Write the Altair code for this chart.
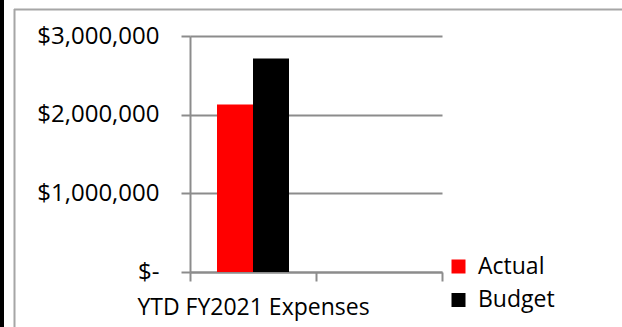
import altair as alt
import pandas as pd

# ---- data ----
categories = ["YTD FY2021 Expenses", "YTD FY2021 Expenses"]
series = ["Actual", "Budget"]
values = [2130000, 2715000]
axis_categories = ["YTD FY2021 Expenses", " "]
y_ticks = [0, 1000000, 2000000, 3000000]
colors = ["#ff0000", "#000000"]

FONT = "Open Sans"
GRID = "#8c8c8c"

df = pd.DataFrame({"category": categories, "series": series, "value": values})
one = pd.DataFrame({"k": [0]})

PAD_L, PAD_T, W, H = 190, 36, 252, 236
TOTAL_W, TOTAL_H = 622, 327

bars = alt.Chart(df).mark_bar(strokeWidth=0).encode(
    x=alt.X("category:N", scale=alt.Scale(domain=axis_categories, paddingInner=0, paddingOuter=0),
            sort=None,
            axis=alt.Axis(title=None, labelAngle=0, labelFontSize=23, labelFont=FONT, labelColor="#000000",
                          labelLimit=1000,
                          domainColor=GRID, domainWidth=2, tickColor=GRID, tickWidth=2, tickSize=9,
                          tickBand="extent", labelPadding=15, grid=False)),
    xOffset=alt.XOffset("series:N", scale=alt.Scale(paddingInner=0, paddingOuter=0.75), sort=series),
    y=alt.Y("value:Q", scale=alt.Scale(domain=[0, 3000000], nice=False),
            axis=alt.Axis(title=None, values=y_ticks, labelFontSize=24, labelFont=FONT, labelColor="#000000",
                          labelExpr="datum.value == 0 ? '$-\u00a0\u00a0' : '$' + format(datum.value, ',.0f')",
                          domainColor=GRID, domainWidth=2, tickColor=GRID, tickWidth=2, tickSize=9,
                          gridColor=GRID, gridWidth=2, gridOpacity=1, labelPadding=22)),
    color=alt.Color("series:N", scale=alt.Scale(domain=series, range=colors),
                    legend=alt.Legend(title=None, orient="none", legendX=257, legendY=219, padding=0,
                                      labelFontSize=23, labelFont=FONT, labelColor="#000000",
                                      symbolType="square", symbolSize=196, symbolStrokeWidth=0,
                                      labelOffset=8, rowPadding=9.5)),
)

# frame lines drawn as rules (top and left edges of the surrounding box)
top_edge = alt.Chart(one).mark_rule(stroke="#a6a6a6", strokeWidth=2).encode(
    x=alt.value(14 - PAD_L), x2=alt.value(TOTAL_W - PAD_L), y=alt.value(9.5 - PAD_T)
)
left_edge = alt.Chart(one).mark_rule(stroke="#a6a6a6", strokeWidth=2).encode(
    x=alt.value(14.5 - PAD_L), y=alt.value(9 - PAD_T), y2=alt.value(TOTAL_H - PAD_T)
)
stripe = alt.Chart(one).mark_rect(color="#000000").encode(
    x=alt.value(-PAD_L), x2=alt.value(4 - PAD_L), y=alt.value(-PAD_T), y2=alt.value(TOTAL_H - PAD_T)
)

chart = alt.layer(top_edge, left_edge, stripe, bars).properties(
    width=W, height=H,
    autosize=alt.AutoSizeParams(type="none"),
    padding={"left": PAD_L, "top": PAD_T, "right": TOTAL_W - PAD_L - W, "bottom": TOTAL_H - PAD_T - H},
    background="white",
).configure_view(stroke=None)

chart.save("out.html", embed_options={"renderer": "svg", "actions": False})
